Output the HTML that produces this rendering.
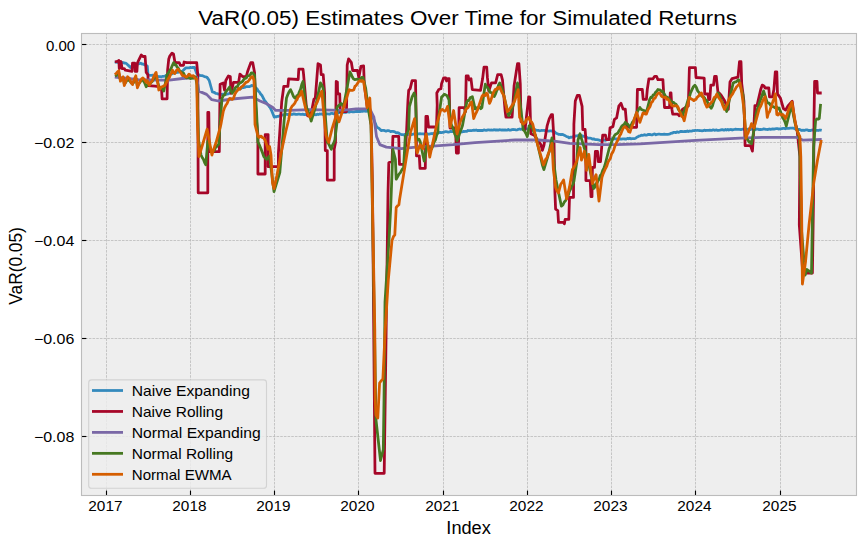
<!DOCTYPE html>
<html><head><meta charset="utf-8"><style>html,body{margin:0;padding:0;background:#fff;width:865px;height:547px;overflow:hidden}svg{display:block}text{font-family:"Liberation Sans",sans-serif}</style></head>
<body><svg width="865" height="547" viewBox="0 0 865 547" font-family="Liberation Sans, sans-serif" fill="#000">
<defs><clipPath id="clip"><rect x="81.5" y="33.5" width="775.0" height="462.0"/></clipPath></defs>
<rect x="81.5" y="33.5" width="775.0" height="462.0" fill="#eeeeee"/>
<line x1="106.50" y1="495.5" x2="106.50" y2="33.5" stroke="#b2b2b2" stroke-width="0.69" stroke-dasharray="2.57 1.11"/>
<line x1="190.50" y1="495.5" x2="190.50" y2="33.5" stroke="#b2b2b2" stroke-width="0.69" stroke-dasharray="2.57 1.11"/>
<line x1="274.50" y1="495.5" x2="274.50" y2="33.5" stroke="#b2b2b2" stroke-width="0.69" stroke-dasharray="2.57 1.11"/>
<line x1="358.50" y1="495.5" x2="358.50" y2="33.5" stroke="#b2b2b2" stroke-width="0.69" stroke-dasharray="2.57 1.11"/>
<line x1="443.50" y1="495.5" x2="443.50" y2="33.5" stroke="#b2b2b2" stroke-width="0.69" stroke-dasharray="2.57 1.11"/>
<line x1="527.50" y1="495.5" x2="527.50" y2="33.5" stroke="#b2b2b2" stroke-width="0.69" stroke-dasharray="2.57 1.11"/>
<line x1="611.50" y1="495.5" x2="611.50" y2="33.5" stroke="#b2b2b2" stroke-width="0.69" stroke-dasharray="2.57 1.11"/>
<line x1="695.50" y1="495.5" x2="695.50" y2="33.5" stroke="#b2b2b2" stroke-width="0.69" stroke-dasharray="2.57 1.11"/>
<line x1="780.50" y1="495.5" x2="780.50" y2="33.5" stroke="#b2b2b2" stroke-width="0.69" stroke-dasharray="2.57 1.11"/>
<line x1="81.5" y1="44.50" x2="856.5" y2="44.50" stroke="#b2b2b2" stroke-width="0.69" stroke-dasharray="2.57 1.11"/>
<line x1="81.5" y1="142.50" x2="856.5" y2="142.50" stroke="#b2b2b2" stroke-width="0.69" stroke-dasharray="2.57 1.11"/>
<line x1="81.5" y1="240.50" x2="856.5" y2="240.50" stroke="#b2b2b2" stroke-width="0.69" stroke-dasharray="2.57 1.11"/>
<line x1="81.5" y1="338.50" x2="856.5" y2="338.50" stroke="#b2b2b2" stroke-width="0.69" stroke-dasharray="2.57 1.11"/>
<line x1="81.5" y1="436.50" x2="856.5" y2="436.50" stroke="#b2b2b2" stroke-width="0.69" stroke-dasharray="2.57 1.11"/>
<g clip-path="url(#clip)" fill="none" stroke-width="2.78" stroke-linejoin="round" stroke-linecap="butt">
<path d="M114.8,61.7 L116.0,62.2 L117.2,62.3 L118.4,62.5 L119.6,62.6 L120.9,62.1 L122.1,62.6 L123.3,62.6 L124.5,63.1 L125.7,63.2 L126.8,63.9 L128.0,65.0 L129.2,66.3 L130.5,67.6 L131.9,66.0 L133.4,64.6 L134.6,64.6 L135.8,64.1 L137.1,64.1 L138.3,63.8 L139.5,63.6 L140.7,63.2 L141.8,64.0 L143.0,64.0 L144.4,64.6 L145.9,65.1 L147.3,66.1 L148.0,74.9 L149.2,75.2 L150.3,75.4 L151.5,75.3 L152.7,75.2 L153.8,75.7 L155.0,75.7 L156.3,76.1 L157.6,76.5 L159.0,76.6 L160.3,76.6 L161.6,76.8 L162.9,76.3 L164.2,76.3 L165.6,75.7 L166.9,75.0 L168.2,74.6 L169.4,74.6 L170.7,74.0 L171.9,74.0 L173.2,73.0 L174.4,73.0 L175.7,72.8 L176.9,72.4 L178.0,72.3 L179.1,71.6 L180.2,71.9 L181.3,71.6 L182.4,71.3 L184.1,69.6 L185.7,68.0 L186.8,67.9 L187.9,67.9 L189.0,67.9 L190.1,67.4 L191.2,67.7 L192.3,67.5 L193.4,67.4 L194.5,67.5 L196.7,73.5 L197.8,74.4 L198.9,74.8 L200.0,75.5 L201.1,75.7 L202.2,75.7 L203.3,76.0 L204.4,76.6 L205.5,76.8 L206.6,77.0 L207.9,78.5 L209.2,80.5 L212.4,92.0 L214.0,92.3 L215.6,93.3 L216.9,93.5 L218.1,94.1 L219.4,94.1 L220.7,94.6 L221.8,94.3 L222.9,94.1 L224.0,94.3 L225.1,93.9 L226.2,94.4 L227.3,93.9 L228.4,93.9 L229.7,93.2 L231.0,92.4 L232.2,92.0 L233.5,91.0 L234.8,90.7 L235.9,90.5 L237.0,90.0 L238.1,89.3 L239.2,89.0 L240.4,88.8 L241.5,88.1 L242.6,87.6 L243.7,87.5 L244.8,87.3 L245.9,86.7 L247.1,86.7 L248.2,86.6 L249.3,86.7 L250.4,86.3 L251.6,85.5 L252.7,85.6 L253.8,86.2 L254.9,87.2 L256.0,88.0 L257.2,89.1 L258.3,91.2 L259.5,92.1 L260.6,94.0 L261.8,95.2 L263.2,97.9 L264.6,100.7 L265.7,101.8 L266.8,103.5 L267.9,104.8 L269.0,106.3 L270.1,107.5 L271.5,110.3 L272.8,113.6 L274.2,117.1 L275.3,116.7 L276.4,116.9 L277.5,116.3 L278.6,116.3 L279.7,115.8 L280.9,115.2 L282.1,115.1 L283.3,114.9 L284.4,114.7 L285.6,114.3 L286.8,114.4 L288.0,114.5 L289.2,114.0 L290.3,114.2 L291.5,114.5 L292.6,114.3 L293.7,113.8 L294.8,114.1 L296.0,114.4 L297.1,114.3 L298.2,114.2 L299.3,114.2 L300.5,114.3 L301.6,114.3 L302.7,114.2 L303.8,114.5 L305.0,114.6 L306.1,114.2 L307.2,114.3 L308.3,114.7 L309.4,114.8 L310.5,114.1 L311.6,114.6 L312.8,114.3 L313.9,114.8 L315.0,114.5 L316.1,114.8 L317.3,114.2 L318.4,114.5 L319.6,114.0 L320.7,114.1 L321.9,114.0 L323.0,114.5 L324.1,113.8 L325.3,114.1 L326.4,113.9 L327.6,113.8 L328.7,114.0 L329.8,114.1 L331.0,113.4 L332.1,113.4 L333.3,113.8 L334.4,113.5 L335.5,113.3 L336.7,113.4 L337.8,112.5 L339.0,112.6 L340.1,112.4 L341.3,112.8 L342.4,112.4 L343.5,112.2 L344.7,112.3 L345.8,112.5 L347.0,112.0 L348.1,111.6 L349.2,112.2 L350.4,111.7 L351.5,111.6 L352.7,111.8 L353.8,111.8 L355.0,111.6 L356.1,111.5 L357.2,111.5 L358.3,111.5 L359.4,111.4 L360.5,111.5 L361.6,111.1 L362.7,111.4 L363.8,110.8 L364.9,111.2 L366.0,111.3 L367.1,111.0 L368.5,111.4 L369.8,112.0 L371.2,113.0 L373.2,118.2 L374.3,120.8 L375.4,123.6 L376.5,126.5 L377.7,127.7 L378.9,128.2 L380.2,129.6 L381.4,130.6 L382.5,130.4 L383.7,130.4 L384.8,130.7 L386.0,131.1 L387.1,130.7 L388.3,130.7 L389.4,130.9 L390.6,131.6 L391.8,131.4 L392.9,131.4 L394.0,131.6 L395.1,132.1 L396.2,132.8 L397.3,132.6 L398.4,132.8 L399.5,133.7 L400.6,134.2 L401.7,134.7 L402.8,134.7 L403.9,135.0 L405.1,134.3 L406.2,134.4 L407.4,134.2 L408.5,134.4 L409.7,134.7 L410.8,134.4 L412.0,134.5 L413.1,134.1 L414.3,133.9 L415.4,133.8 L416.6,134.3 L417.7,133.9 L418.8,133.8 L420.0,133.7 L421.1,133.8 L422.2,133.9 L423.4,133.8 L424.5,134.1 L425.6,134.2 L426.7,133.6 L427.9,134.2 L429.0,134.2 L430.1,133.8 L431.3,133.5 L432.4,133.8 L433.5,133.4 L434.7,133.1 L435.8,133.5 L437.0,133.0 L438.1,133.1 L439.2,132.4 L440.4,132.5 L441.5,132.6 L442.7,132.4 L443.8,132.2 L445.0,131.7 L446.1,131.7 L447.2,131.8 L448.4,132.1 L449.5,131.8 L450.7,131.4 L451.8,131.7 L453.0,131.7 L454.1,131.5 L455.2,131.4 L456.4,131.7 L457.5,132.0 L458.7,132.1 L459.8,131.7 L461.0,132.0 L462.1,131.9 L463.3,131.5 L464.5,131.5 L465.6,131.3 L466.8,131.3 L468.0,130.5 L469.2,130.7 L470.3,130.5 L471.5,130.7 L472.7,130.3 L473.8,130.1 L475.0,130.3 L476.1,130.0 L477.2,130.5 L478.3,130.5 L479.4,130.4 L480.6,130.5 L481.7,130.4 L482.8,130.5 L483.9,129.9 L485.0,130.2 L486.1,130.4 L487.2,130.1 L488.3,129.8 L489.4,130.0 L490.6,130.1 L491.7,130.0 L492.8,130.2 L493.9,129.7 L495.0,130.0 L496.1,130.0 L497.2,130.0 L498.3,130.1 L499.4,129.7 L500.6,129.8 L501.7,130.1 L502.8,129.8 L503.9,130.1 L505.0,129.8 L506.1,130.1 L507.2,130.1 L508.3,129.5 L509.4,130.1 L510.6,130.1 L511.7,129.7 L512.8,129.5 L513.9,129.6 L515.0,129.7 L516.1,130.0 L517.3,129.8 L518.4,129.3 L519.6,129.0 L520.7,129.3 L521.9,129.0 L523.0,128.9 L524.1,129.0 L525.3,128.5 L526.4,128.8 L527.6,128.9 L528.7,128.4 L529.9,128.8 L531.1,128.9 L532.3,129.0 L533.5,129.3 L534.7,129.5 L535.9,130.1 L537.1,130.4 L538.3,130.4 L539.5,130.8 L540.6,130.7 L541.8,130.3 L542.9,130.5 L544.1,130.3 L545.3,130.6 L546.4,130.8 L547.6,130.9 L548.8,131.1 L549.9,130.9 L551.1,130.8 L552.2,131.1 L553.4,131.1 L554.8,132.0 L556.1,133.2 L557.5,133.8 L558.6,134.4 L559.8,134.4 L560.9,134.7 L562.0,134.4 L563.2,134.7 L564.3,135.2 L565.5,135.9 L566.7,136.6 L567.9,136.8 L569.1,137.9 L570.3,137.2 L571.5,137.3 L572.7,136.9 L573.9,136.6 L575.1,136.3 L576.3,135.8 L577.6,135.9 L578.8,135.4 L580.0,135.2 L581.3,135.3 L582.5,136.3 L583.8,136.1 L585.0,137.0 L586.3,137.1 L587.5,137.8 L588.8,138.2 L590.0,138.2 L591.2,138.3 L592.4,139.1 L593.6,138.8 L594.8,139.5 L595.9,139.7 L597.1,139.7 L598.3,139.8 L599.5,140.3 L600.7,140.5 L601.9,140.4 L603.0,140.0 L604.2,140.0 L605.3,140.3 L606.5,140.0 L607.6,139.4 L608.8,139.4 L609.9,139.5 L611.1,138.9 L612.2,138.9 L613.4,138.8 L614.5,138.7 L615.7,139.0 L616.9,138.9 L618.0,139.2 L619.2,139.2 L620.4,138.9 L621.6,139.1 L622.7,138.9 L623.9,138.9 L625.1,139.0 L626.2,139.1 L627.4,138.4 L628.6,138.8 L629.8,138.2 L630.9,138.9 L632.1,138.6 L633.3,138.7 L634.4,138.6 L635.6,138.2 L636.8,137.2 L637.9,136.7 L639.1,136.0 L640.2,135.8 L641.4,135.2 L642.5,135.3 L643.6,135.2 L644.7,134.6 L645.8,135.2 L646.9,135.1 L648.0,134.5 L649.1,134.4 L650.2,134.5 L651.4,134.9 L652.5,134.8 L653.7,134.1 L654.9,134.0 L656.0,134.8 L657.2,134.3 L658.4,134.2 L659.5,134.2 L660.7,134.3 L661.9,134.4 L663.1,134.3 L664.2,134.1 L665.4,134.4 L666.6,134.4 L667.7,134.3 L668.9,134.1 L670.1,133.8 L671.2,133.2 L672.4,133.2 L673.5,132.3 L674.7,132.3 L675.9,132.6 L677.0,131.8 L678.2,132.3 L679.3,132.1 L680.5,131.5 L681.6,131.4 L682.8,131.7 L683.9,131.6 L685.1,131.3 L686.2,131.6 L687.4,131.0 L688.5,131.5 L689.7,131.0 L690.8,131.2 L692.0,131.1 L693.1,130.6 L694.3,130.6 L695.4,130.3 L696.5,130.5 L697.6,130.3 L698.8,130.5 L699.9,130.6 L701.0,130.7 L702.1,130.8 L703.2,130.7 L704.3,130.1 L705.4,130.5 L706.6,130.4 L707.7,130.4 L708.8,130.4 L709.9,130.1 L711.0,130.3 L712.1,130.3 L713.2,129.8 L714.4,130.3 L715.5,130.1 L716.6,129.9 L717.7,130.4 L718.8,130.3 L719.9,130.2 L721.1,129.9 L722.2,129.6 L723.3,130.0 L724.4,130.1 L725.5,129.5 L726.6,130.0 L727.7,129.4 L728.9,130.1 L730.0,129.6 L731.1,129.5 L732.2,130.0 L733.3,129.7 L734.4,129.5 L735.5,129.2 L736.7,129.4 L737.8,129.3 L738.9,129.3 L740.0,129.5 L741.1,129.6 L742.3,129.2 L743.4,129.1 L744.5,129.5 L745.6,129.6 L746.8,129.2 L747.9,129.3 L749.0,129.1 L750.2,129.7 L751.3,129.1 L752.4,129.0 L753.5,129.4 L754.7,129.6 L755.8,129.4 L756.9,129.0 L758.1,129.2 L759.2,129.6 L760.3,129.4 L761.4,129.5 L762.6,129.3 L763.7,128.9 L764.8,129.1 L766.0,129.3 L767.1,129.5 L768.2,129.4 L769.3,129.0 L770.5,129.4 L771.6,129.1 L772.8,128.9 L773.9,129.1 L775.1,128.8 L776.2,128.7 L777.4,128.7 L778.5,129.0 L779.7,128.9 L780.8,128.8 L782.0,128.7 L783.1,128.3 L784.3,128.4 L785.4,128.8 L786.6,128.3 L787.7,128.3 L788.9,128.4 L790.0,128.2 L791.2,128.2 L792.3,128.0 L793.5,128.2 L794.7,128.6 L795.9,129.1 L797.1,129.0 L798.4,129.5 L799.6,129.4 L800.8,130.1 L801.9,130.5 L803.0,130.2 L804.1,130.5 L805.2,130.2 L806.3,129.9 L807.4,129.8 L808.5,130.5 L809.6,130.4 L810.7,130.6 L811.8,130.1 L812.9,130.0 L814.0,130.5 L815.1,130.7 L816.2,130.4 L817.3,130.3 L818.4,130.5 L819.5,130.2 L820.6,130.1 L821.7,130.4" stroke="#348ABD"/>
<path d="M114.9,62.0 L118.3,61.0 L118.8,60.4 L119.3,68.6 L121.0,61.5 L122.1,68.6 L124.3,68.6 L125.4,70.2 L132.0,71.3 L132.5,63.1 L134.7,63.1 L135.2,71.3 L136.9,71.3 L137.4,63.1 L139.1,59.3 L141.3,54.9 L142.9,56.5 L145.1,56.5 L146.2,72.4 L147.9,74.6 L148.4,85.6 L155.0,86.2 L158.8,86.7 L161.6,90.0 L162.1,98.8 L167.1,98.8 L167.6,70.2 L168.7,59.3 L169.8,56.0 L172.0,53.2 L173.5,54.0 L174.8,61.5 L175.9,62.6 L179.2,62.6 L180.3,65.3 L183.5,65.3 L184.1,62.0 L186.8,62.6 L196.7,62.6 L197.8,74.6 L198.2,192.8 L207.8,192.8 L207.8,112.5 L208.8,112.5 L209.3,151.7 L219.3,151.7 L220.1,84.3 L223.3,83.0 L224.5,90.0 L225.8,80.5 L228.4,76.0 L230.3,76.6 L231.0,93.3 L233.5,82.4 L238.6,82.4 L239.9,74.1 L242.5,76.6 L246.3,76.6 L247.6,71.5 L250.8,62.6 L252.7,62.6 L254.6,72.8 L255.9,115.0 L257.9,134.6 L257.9,174.0 L265.2,174.0 L265.2,134.6 L268.1,134.6 L268.1,166.7 L278.4,166.7 L278.4,153.6 L281.7,102.0 L283.8,86.3 L287.9,86.3 L288.6,78.8 L298.2,79.5 L298.8,69.2 L303.0,69.2 L303.6,74.7 L306.4,107.5 L307.7,115.8 L311.0,114.5 L313.9,99.3 L315.3,98.0 L318.0,63.7 L320.5,65.0 L321.2,74.7 L323.2,74.7 L324.6,92.5 L325.3,150.6 L327.3,150.6 L327.3,180.1 L334.2,180.1 L334.2,149.2 L335.5,142.4 L336.2,81.5 L337.4,82.0 L337.6,93.8 L339.7,93.8 L340.3,111.6 L346.5,111.6 L347.2,65.0 L348.6,58.9 L351.3,62.3 L352.7,70.5 L357.5,70.5 L358.8,77.4 L360.9,66.4 L363.6,65.8 L364.3,84.2 L367.1,106.2 L369.5,108.0 L371.2,125.0 L372.5,190.0 L375.0,473.3 L384.2,473.3 L388.0,193.7 L388.8,162.7 L392.1,161.1 L392.9,136.4 L398.7,136.4 L399.5,164.4 L404.5,164.4 L406.5,133.0 L407.5,110.0 L408.0,99.8 L408.7,90.2 L410.1,88.8 L412.1,80.6 L415.5,80.6 L416.2,120.0 L416.5,155.9 L419.3,155.9 L420.0,168.3 L425.3,168.3 L425.9,116.4 L427.5,116.4 L428.5,127.0 L436.5,127.0 L437.2,105.0 L436.8,93.0 L438.8,89.5 L440.9,88.8 L441.6,83.4 L443.6,77.9 L445.7,77.9 L446.5,81.0 L447.7,78.6 L449.1,78.6 L450.0,128.0 L455.5,128.0 L456.4,153.0 L458.4,153.0 L459.1,107.7 L464.2,107.7 L465.5,111.6 L466.2,76.0 L468.2,76.0 L469.0,80.0 L471.0,78.8 L472.3,89.7 L480.5,90.4 L482.6,78.8 L484.0,67.1 L486.7,67.1 L487.4,77.4 L488.8,91.1 L491.5,82.9 L495.6,82.9 L497.7,74.7 L501.1,74.7 L502.5,80.1 L505.2,111.6 L505.9,117.1 L512.1,117.1 L514.1,85.6 L517.5,63.7 L518.9,63.7 L520.3,84.2 L521.0,121.5 L523.2,122.9 L525.0,130.0 L528.7,96.8 L529.8,97.0 L530.8,133.8 L534.2,135.2 L541.0,144.8 L542.4,150.3 L544.0,145.0 L547.2,125.6 L549.2,118.8 L551.3,114.7 L552.5,114.7 L554.0,140.7 L554.9,191.6 L555.6,209.1 L557.8,210.6 L558.5,222.3 L563.6,222.3 L564.4,223.7 L565.1,219.4 L568.8,219.4 L569.5,197.4 L573.5,197.4 L573.9,124.2 L575.3,101.0 L577.3,95.5 L579.4,95.5 L582.1,106.4 L582.8,129.7 L585.1,129.4 L585.9,139.6 L585.9,180.6 L590.2,180.6 L591.0,196.7 L592.0,196.7 L592.4,167.4 L594.5,167.4 L595.4,151.3 L597.5,151.3 L598.3,161.6 L600.5,161.6 L601.2,152.8 L602.7,135.2 L605.5,135.2 L606.3,139.6 L609.0,139.6 L610.0,127.9 L612.9,126.7 L614.4,119.4 L616.6,117.9 L618.8,106.2 L621.0,103.3 L623.1,109.1 L625.3,109.1 L626.8,126.7 L630.0,127.3 L636.6,127.3 L637.4,89.5 L642.3,89.5 L643.2,99.3 L646.4,99.3 L647.3,89.5 L648.9,78.8 L653.0,78.8 L654.7,76.3 L656.5,76.3 L657.9,79.6 L662.9,79.6 L664.5,107.5 L669.5,107.5 L670.3,92.8 L671.0,92.8 L671.9,109.2 L672.7,114.1 L677.7,114.1 L679.3,115.8 L682.6,109.2 L688.3,106.0 L689.4,67.7 L695.4,67.7 L696.0,77.5 L704.2,78.1 L704.7,94.0 L708.0,94.0 L708.6,99.5 L709.8,99.5 L710.8,85.2 L713.5,85.2 L714.6,76.4 L716.3,76.4 L717.9,91.8 L721.0,95.0 L724.5,100.6 L728.3,109.3 L730.0,81.9 L732.1,78.6 L738.0,77.1 L739.5,61.7 L741.0,61.7 L741.7,83.6 L743.9,101.2 L745.1,145.6 L750.5,145.6 L752.4,151.1 L753.3,138.3 L754.9,105.6 L757.0,105.6 L760.7,89.5 L762.2,85.1 L764.0,86.0 L765.1,88.0 L768.8,88.0 L769.5,96.8 L772.5,96.8 L773.9,89.5 L775.3,71.9 L776.8,71.9 L777.5,93.9 L780.5,98.3 L783.4,108.5 L785.6,110.0 L788.0,106.0 L792.2,101.2 L794.4,118.7 L797.2,131.0 L799.9,156.6 L799.3,225.0 L801.5,255.0 L802.8,273.1 L812.4,273.1 L813.5,200.0 L814.0,120.0 L814.6,81.5 L817.0,81.5 L817.5,93.0 L821.7,93.0" stroke="#A60628"/>
<path d="M114.8,77.0 L138.3,79.7 L155.0,80.1 L169.3,80.1 L182.4,78.5 L196.7,77.4 L198.9,91.1 L206.6,94.4 L211.8,99.7 L218.2,101.0 L232.2,99.0 L252.7,97.1 L260.0,101.0 L266.0,103.4 L272.8,107.5 L275.5,110.3 L289.2,110.3 L309.8,109.6 L342.4,110.3 L356.1,108.9 L369.8,108.9 L373.9,117.1 L376.5,136.4 L379.8,144.6 L386.4,147.1 L401.2,148.7 L416.0,147.1 L432.4,146.1 L453.0,144.7 L475.0,142.7 L515.0,140.0 L538.3,140.0 L556.1,141.4 L569.8,143.4 L599.0,144.7 L616.6,144.7 L640.0,143.9 L695.5,140.4 L740.0,138.1 L762.4,137.4 L797.2,137.4 L802.6,140.1 L821.7,139.5" stroke="#7A68A6"/>
<path d="M114.9,76.0 L116.2,75.5 L117.5,74.3 L118.8,73.0 L120.4,80.0 L121.8,79.1 L123.2,78.0 L124.3,84.0 L125.9,82.1 L127.6,79.0 L128.8,80.4 L130.1,81.2 L131.3,83.0 L132.5,84.0 L133.6,82.5 L134.7,79.3 L135.8,78.0 L137.4,86.0 L138.8,83.6 L140.2,82.0 L141.6,80.0 L142.9,80.0 L144.6,82.8 L146.2,86.7 L147.3,84.9 L148.4,84.3 L149.5,84.0 L150.8,82.7 L152.1,81.7 L153.5,78.9 L154.8,77.7 L156.1,76.0 L158.8,86.0 L160.1,88.2 L161.3,87.6 L162.6,88.9 L163.8,91.1 L167.1,74.6 L168.4,72.8 L169.7,70.6 L171.1,68.5 L172.4,65.3 L173.7,62.6 L174.8,64.9 L175.9,64.6 L177.0,67.0 L178.1,68.0 L179.5,70.6 L181.0,72.0 L182.4,73.0 L183.5,73.1 L184.6,75.4 L185.7,77.1 L186.8,77.9 L188.1,77.0 L189.3,78.0 L190.6,78.6 L191.8,77.7 L193.1,78.3 L194.3,76.4 L195.6,77.0 L197.0,85.0 L198.5,140.0 L201.0,155.1 L202.2,157.4 L203.4,159.3 L204.6,162.6 L205.8,164.7 L207.8,141.4 L209.2,145.7 L210.5,147.9 L211.9,152.4 L213.1,150.3 L214.2,150.7 L215.4,147.8 L216.5,146.8 L217.7,145.2 L218.8,144.2 L220.0,125.0 L222.0,98.4 L223.3,95.6 L224.6,95.0 L225.8,91.7 L227.1,90.3 L228.4,88.7 L229.7,86.9 L230.9,91.1 L232.2,93.3 L233.5,91.5 L234.8,88.2 L236.1,86.9 L237.4,86.7 L238.6,84.2 L239.9,82.8 L241.2,82.4 L242.5,81.4 L243.8,79.4 L245.0,78.4 L246.3,77.9 L247.6,75.8 L248.9,75.7 L250.1,75.1 L251.4,72.8 L252.7,72.8 L254.5,75.0 L256.5,111.2 L257.9,141.9 L259.1,144.3 L260.3,147.3 L261.4,149.9 L262.6,153.0 L263.8,156.5 L265.2,158.0 L266.7,159.4 L268.1,157.5 L269.5,156.0 L274.0,191.5 L279.8,172.6 L284.2,120.0 L286.5,98.0 L287.9,94.3 L289.2,91.5 L290.6,89.7 L292.0,92.8 L293.3,96.1 L294.7,98.0 L295.8,98.4 L296.9,95.6 L298.0,96.0 L299.2,92.3 L300.5,89.3 L301.8,84.4 L303.0,81.5 L305.7,104.8 L306.8,107.9 L307.9,110.7 L309.0,113.9 L310.1,116.8 L311.2,121.2 L315.3,107.5 L320.5,82.9 L321.9,85.1 L323.2,88.4 L326.0,125.0 L327.3,142.4 L328.7,143.9 L330.0,146.7 L331.4,149.2 L332.6,145.0 L333.7,143.1 L334.9,139.7 L336.9,123.2 L336.9,107.5 L338.3,105.8 L339.6,104.8 L341.0,103.4 L342.2,104.6 L343.4,106.8 L346.5,91.1 L349.9,71.9 L351.1,74.1 L352.2,76.8 L353.4,78.8 L354.8,79.7 L356.1,79.4 L357.4,79.2 L358.8,79.5 L360.2,79.9 L361.6,77.5 L363.0,77.4 L365.7,88.4 L368.0,107.0 L371.0,125.0 L376.0,420.0 L380.5,460.5 L383.3,449.5 L384.0,400.0 L385.0,302.0 L389.3,234.9 L390.7,207.5 L392.9,149.5 L395.4,159.4 L396.2,179.2 L397.6,176.9 L399.0,174.2 L400.4,172.6 L402.0,169.7 L403.6,167.7 L405.3,136.4 L406.4,134.5 L407.5,132.3 L408.6,129.8 L409.4,106.6 L412.1,97.0 L414.2,93.0 L415.5,97.0 L416.2,120.0 L416.8,138.0 L417.9,140.1 L419.0,139.2 L420.1,141.3 L424.2,161.2 L426.9,146.1 L428.1,146.1 L429.3,147.6 L430.5,148.5 L431.7,148.8 L432.9,145.8 L434.2,141.7 L435.4,139.9 L436.7,135.0 L437.9,132.4 L438.2,120.0 L441.6,97.0 L443.0,95.7 L444.3,94.3 L445.6,94.8 L447.0,95.7 L449.0,100.0 L450.0,120.0 L451.2,124.2 L452.4,127.0 L453.6,129.8 L454.7,134.0 L455.9,136.4 L457.1,140.6 L458.5,137.2 L459.8,132.8 L461.1,129.6 L462.5,125.5 L466.8,102.0 L467.9,100.4 L469.0,100.6 L470.1,97.8 L471.2,97.3 L472.3,96.6 L475.1,108.9 L476.2,107.8 L477.4,109.5 L478.5,107.2 L479.6,107.0 L480.8,108.7 L481.9,107.5 L485.3,84.2 L486.5,87.1 L487.6,87.6 L488.8,89.7 L490.1,92.4 L491.5,92.6 L492.9,94.4 L494.2,96.6 L495.3,94.4 L496.4,91.4 L497.5,89.4 L498.6,84.9 L499.7,82.9 L500.8,85.4 L501.9,88.8 L503.0,92.0 L508.6,115.8 L509.8,113.5 L511.0,111.3 L512.2,108.0 L513.4,104.8 L517.5,82.9 L521.0,110.3 L523.2,129.7 L524.6,131.1 L525.9,133.5 L527.3,136.6 L529.4,125.6 L530.7,126.0 L532.0,127.0 L533.2,130.2 L534.3,133.5 L535.5,135.2 L542.4,165.0 L543.9,169.6 L549.2,151.6 L552.0,137.9 L554.1,165.0 L556.0,180.0 L561.4,206.2 L562.9,205.0 L564.3,202.0 L565.8,200.3 L567.0,197.1 L568.1,195.8 L569.3,191.7 L570.4,189.5 L571.6,186.1 L572.7,184.8 L573.9,181.3 L576.8,162.0 L578.0,140.0 L580.0,133.8 L584.4,148.4 L588.0,160.0 L593.6,188.6 L594.7,187.4 L595.8,183.7 L596.9,183.2 L598.1,180.8 L599.2,179.2 L600.3,175.5 L601.4,174.4 L602.6,170.7 L603.8,168.3 L605.0,165.0 L609.3,148.0 L610.5,145.5 L611.8,141.2 L613.0,138.6 L614.2,136.0 L615.4,134.4 L616.6,133.8 L617.8,133.1 L619.1,130.8 L620.3,128.9 L621.6,126.5 L622.8,125.2 L624.1,124.5 L625.3,122.3 L626.5,124.4 L627.6,124.0 L628.8,125.8 L630.0,127.3 L631.2,125.0 L632.5,122.2 L633.7,120.8 L635.0,117.7 L636.2,113.8 L637.4,111.5 L638.7,109.3 L639.9,107.5 L641.2,109.5 L642.5,109.9 L643.8,110.6 L645.1,110.9 L646.4,112.5 L649.7,99.3 L650.9,97.1 L652.0,97.5 L653.2,94.8 L654.4,94.7 L655.6,92.2 L656.7,91.2 L657.9,89.5 L659.1,89.8 L660.4,90.2 L661.6,91.7 L662.9,91.1 L664.5,94.6 L666.0,97.0 L667.2,97.1 L668.3,98.0 L669.5,99.3 L670.8,101.1 L672.1,102.0 L673.4,102.3 L674.7,103.6 L676.0,104.3 L677.1,106.1 L678.2,109.1 L679.3,110.8 L680.4,111.2 L681.5,113.6 L682.6,115.8 L683.7,112.4 L684.9,108.5 L686.0,106.8 L687.1,103.2 L688.2,99.3 L689.4,96.9 L690.5,92.9 L692.0,89.7 L693.4,86.7 L694.9,85.2 L696.4,87.5 L697.8,91.2 L699.3,92.9 L700.6,94.5 L701.8,96.3 L703.1,96.6 L704.4,97.7 L705.6,100.2 L706.9,100.6 L708.4,104.2 L709.8,106.6 L711.3,108.2 L712.4,106.1 L713.5,102.1 L714.6,99.5 L715.7,97.2 L716.8,95.6 L717.9,92.9 L719.0,94.2 L720.1,96.8 L721.2,100.7 L722.3,102.0 L723.4,105.1 L724.5,106.9 L725.6,108.6 L726.7,111.5 L733.2,83.0 L734.6,82.2 L735.9,82.0 L737.2,80.8 L738.6,79.6 L743.0,95.0 L746.0,138.3 L747.1,139.0 L748.2,140.6 L749.3,142.3 L750.4,141.8 L751.5,143.8 L754.0,130.0 L756.3,112.9 L757.5,108.5 L758.7,105.0 L760.0,100.9 L761.2,98.0 L762.4,94.3 L763.6,91.0 L767.0,102.0 L768.1,103.1 L769.3,103.2 L770.5,105.3 L771.6,105.4 L772.8,106.6 L773.9,107.0 L775.2,107.8 L776.5,106.8 L777.7,108.8 L779.0,108.0 L780.2,110.7 L781.4,114.0 L782.6,117.6 L783.9,119.4 L785.1,122.2 L786.3,126.0 L791.5,105.0 L795.0,123.0 L799.5,138.0 L801.5,230.0 L805.1,275.0 L807.0,269.5 L808.1,270.4 L809.2,270.9 L810.4,272.1 L811.5,273.1 L812.4,218.3 L813.6,147.4 L815.6,120.3 L816.8,118.9 L818.1,119.2 L819.3,118.5 L820.6,103.9" stroke="#467821"/>
<path d="M114.9,74.6 L116.2,73.4 L117.5,71.8 L118.8,70.8 L120.4,81.2 L121.8,79.0 L123.2,76.8 L124.3,85.6 L125.9,81.3 L127.6,76.8 L129.5,78.5 L131.0,82.4 L132.5,84.5 L133.6,81.1 L134.7,78.3 L135.8,75.7 L137.4,87.8 L138.8,84.2 L140.2,81.2 L141.6,78.9 L142.9,77.9 L144.6,79.8 L146.2,82.3 L147.2,80.5 L148.3,83.6 L149.5,85.1 L150.8,82.4 L152.1,80.9 L153.5,77.3 L154.8,74.2 L156.1,72.4 L158.8,90.0 L160.1,88.7 L161.4,86.8 L162.7,86.7 L163.8,85.8 L164.9,85.5 L167.1,81.2 L168.2,78.6 L169.3,77.7 L170.4,74.8 L171.5,72.8 L172.6,70.2 L173.7,72.9 L174.8,73.5 L176.4,70.4 L178.1,69.1 L179.5,71.4 L181.0,73.1 L182.4,75.7 L184.1,75.6 L185.7,76.8 L186.8,76.9 L187.9,75.6 L189.0,74.1 L190.1,75.1 L191.2,76.0 L192.3,76.0 L193.4,75.7 L195.1,78.2 L196.7,79.0 L197.5,125.0 L198.9,156.5 L202.3,145.5 L207.1,129.1 L211.9,155.1 L213.3,150.4 L214.6,146.6 L216.0,142.8 L220.8,125.0 L223.3,111.2 L224.6,107.6 L225.8,105.3 L227.1,103.5 L228.4,100.3 L229.7,98.4 L231.0,98.8 L232.2,99.4 L233.5,98.4 L234.8,94.3 L236.1,92.0 L237.4,90.6 L238.6,88.5 L239.9,89.2 L241.2,86.9 L242.5,86.3 L243.8,85.0 L245.0,83.4 L246.3,82.1 L247.6,81.8 L248.9,80.3 L250.1,78.7 L251.4,76.8 L252.7,76.6 L254.0,80.5 L255.0,124.4 L257.9,136.0 L259.0,137.3 L260.1,136.4 L261.2,136.2 L262.3,137.5 L263.8,138.2 L265.2,140.4 L268.1,149.2 L269.6,146.5 L271.0,155.0 L272.5,182.8 L274.0,188.6 L276.9,175.5 L281.3,152.1 L285.7,131.7 L288.6,120.0 L290.6,108.9 L292.0,106.3 L293.3,105.0 L294.7,103.4 L295.9,100.8 L297.0,99.8 L298.1,96.7 L299.3,96.2 L300.5,94.0 L301.6,91.1 L305.7,108.9 L307.1,112.5 L308.4,115.4 L309.8,117.1 L311.1,115.5 L312.4,111.5 L313.7,108.9 L315.0,106.2 L316.1,104.2 L317.3,102.0 L318.4,99.1 L319.5,96.3 L320.7,93.4 L321.8,91.1 L323.9,115.0 L326.0,135.5 L327.4,139.5 L328.7,142.4 L332.1,128.7 L335.5,117.7 L336.2,111.6 L339.0,121.8 L344.5,104.8 L349.2,89.7 L350.4,90.3 L351.5,90.3 L352.7,90.4 L353.8,89.8 L355.0,86.2 L356.1,85.6 L357.5,83.4 L358.8,81.5 L360.0,80.5 L361.2,81.5 L362.4,80.6 L363.6,81.5 L365.7,95.2 L367.1,107.5 L369.8,98.0 L371.2,125.0 L372.4,200.0 L374.8,330.0 L375.2,400.0 L376.0,415.0 L377.8,418.0 L379.6,383.0 L381.2,380.8 L382.9,378.8 L385.2,330.0 L388.3,280.0 L392.0,240.4 L393.4,236.7 L394.8,234.9 L396.2,207.5 L397.5,205.9 L398.9,204.7 L399.5,200.0 L406.1,159.4 L410.5,132.4 L414.6,118.7 L416.0,147.5 L417.3,153.0 L418.7,148.3 L420.1,144.7 L421.5,146.5 L422.8,148.8 L426.2,133.8 L429.7,157.1 L436.5,125.5 L440.6,110.5 L442.3,109.4 L443.5,110.3 L444.7,111.2 L446.1,109.9 L447.5,106.4 L450.2,126.9 L453.6,110.5 L457.1,133.8 L460.0,122.6 L461.1,119.8 L462.2,117.3 L463.3,115.4 L464.4,113.5 L465.5,110.3 L466.7,108.4 L467.9,107.8 L469.2,105.4 L470.4,102.8 L471.6,102.0 L473.7,118.5 L475.1,114.9 L476.4,112.4 L477.8,108.9 L481.9,96.6 L483.0,95.0 L484.1,95.2 L485.2,95.6 L486.3,93.3 L487.4,93.8 L489.5,103.4 L490.7,100.9 L491.9,96.9 L493.0,93.6 L494.2,91.1 L495.3,89.3 L496.4,89.3 L497.5,87.6 L498.6,88.3 L499.7,87.0 L501.1,90.4 L502.4,93.3 L503.8,95.2 L507.3,111.6 L508.6,110.4 L509.8,108.7 L511.0,107.2 L512.3,104.8 L513.5,103.4 L514.8,100.7 L518.2,89.7 L519.6,117.4 L520.8,118.8 L522.0,122.8 L523.2,124.2 L524.3,123.4 L525.4,122.2 L526.5,119.2 L527.6,119.0 L528.7,117.4 L530.1,120.7 L531.4,121.8 L532.8,124.2 L536.9,142.1 L543.5,165.0 L544.6,162.6 L545.7,159.2 L546.8,158.1 L547.9,154.8 L549.0,152.0 L550.5,148.7 L552.0,143.4 L553.4,169.6 L555.6,187.2 L557.0,191.0 L558.5,193.0 L560.7,184.3 L562.2,182.2 L563.6,179.9 L566.6,198.9 L569.5,187.2 L572.4,169.6 L573.9,167.4 L575.3,164.6 L576.8,160.9 L580.1,147.5 L581.5,160.1 L584.4,151.3 L586.6,170.3 L588.8,154.3 L592.4,183.5 L593.6,180.1 L594.9,177.3 L596.1,174.7 L599.0,201.0 L601.9,177.7 L603.1,173.9 L604.4,171.0 L605.6,168.3 L606.8,166.0 L608.1,161.9 L609.3,160.1 L610.5,158.0 L611.6,153.8 L612.8,152.2 L613.9,149.4 L615.1,145.5 L616.6,142.5 L618.0,139.9 L619.5,136.0 L620.8,134.0 L622.0,130.8 L623.3,128.0 L624.6,126.7 L626.0,127.7 L627.3,128.9 L628.6,131.7 L630.0,132.2 L631.1,128.7 L632.2,125.5 L633.3,123.4 L634.4,118.4 L635.5,116.0 L636.6,112.5 L639.9,122.4 L643.0,113.0 L644.1,112.8 L645.3,114.0 L646.4,114.1 L647.6,110.7 L648.9,108.2 L650.1,106.4 L651.4,102.6 L652.6,101.4 L653.9,98.6 L655.1,98.2 L656.3,95.7 L657.6,93.8 L658.8,92.8 L659.9,93.0 L661.1,95.7 L662.2,96.7 L663.4,96.9 L664.5,97.7 L665.7,97.4 L666.8,99.4 L668.0,99.0 L669.2,100.9 L670.4,103.1 L671.5,105.2 L672.7,105.9 L674.1,106.0 L675.6,105.7 L677.0,106.0 L678.2,107.4 L679.4,111.1 L680.6,113.3 L681.8,116.6 L683.0,117.2 L684.2,120.7 L689.4,97.3 L690.9,98.7 L692.3,99.4 L693.8,100.6 L694.9,99.6 L696.0,99.4 L697.1,97.3 L698.5,96.2 L700.0,93.9 L701.4,92.9 L702.5,96.2 L703.6,98.4 L705.2,103.5 L706.9,107.1 L708.0,106.4 L709.1,104.1 L710.2,103.9 L711.5,102.2 L712.8,100.9 L714.2,97.5 L715.5,96.8 L716.8,94.0 L717.9,96.2 L719.0,98.1 L720.1,99.5 L721.6,101.8 L723.0,106.0 L724.5,109.3 L726.0,106.3 L727.4,103.8 L728.9,99.5 L730.1,97.6 L731.3,95.6 L732.6,93.9 L733.8,91.3 L735.0,89.6 L736.2,87.3 L737.5,85.9 L738.8,84.4 L740.0,82.9 L741.7,92.4 L743.9,108.5 L746.0,138.3 L747.1,134.8 L748.2,132.7 L749.3,128.9 L750.4,127.3 L751.5,123.7 L752.8,126.5 L754.0,128.0 L759.3,108.5 L760.5,106.6 L761.6,104.0 L762.8,100.6 L763.9,98.8 L765.1,96.8 L767.3,117.3 L768.4,113.2 L769.6,111.6 L770.7,108.0 L771.9,104.6 L773.0,101.1 L774.2,98.3 L775.3,93.9 L776.8,114.4 L778.0,115.0 L779.2,113.4 L780.3,114.2 L781.5,115.1 L782.7,114.4 L784.1,116.0 L785.5,118.5 L786.8,115.7 L788.1,111.1 L789.3,107.9 L790.6,105.1 L791.9,102.0 L796.5,129.5 L797.6,131.8 L798.8,134.3 L799.9,136.5 L800.8,156.6 L801.5,200.0 L802.4,284.1 L805.5,262.0 L809.1,224.2 L813.8,182.6 L817.5,160.0 L821.3,140.0" stroke="#D55E00"/>
</g>
<line x1="106.50" y1="495.5" x2="106.50" y2="490.64" stroke="#000" stroke-width="1.11"/>
<line x1="190.50" y1="495.5" x2="190.50" y2="490.64" stroke="#000" stroke-width="1.11"/>
<line x1="274.50" y1="495.5" x2="274.50" y2="490.64" stroke="#000" stroke-width="1.11"/>
<line x1="358.50" y1="495.5" x2="358.50" y2="490.64" stroke="#000" stroke-width="1.11"/>
<line x1="443.50" y1="495.5" x2="443.50" y2="490.64" stroke="#000" stroke-width="1.11"/>
<line x1="527.50" y1="495.5" x2="527.50" y2="490.64" stroke="#000" stroke-width="1.11"/>
<line x1="611.50" y1="495.5" x2="611.50" y2="490.64" stroke="#000" stroke-width="1.11"/>
<line x1="695.50" y1="495.5" x2="695.50" y2="490.64" stroke="#000" stroke-width="1.11"/>
<line x1="780.50" y1="495.5" x2="780.50" y2="490.64" stroke="#000" stroke-width="1.11"/>
<line x1="81.5" y1="44.50" x2="86.36" y2="44.50" stroke="#000" stroke-width="1.11"/>
<line x1="81.5" y1="142.50" x2="86.36" y2="142.50" stroke="#000" stroke-width="1.11"/>
<line x1="81.5" y1="240.50" x2="86.36" y2="240.50" stroke="#000" stroke-width="1.11"/>
<line x1="81.5" y1="338.50" x2="86.36" y2="338.50" stroke="#000" stroke-width="1.11"/>
<line x1="81.5" y1="436.50" x2="86.36" y2="436.50" stroke="#000" stroke-width="1.11"/>
<rect x="81.5" y="33.5" width="775.0" height="462.0" fill="none" stroke="#bcbcbc" stroke-width="1.11"/>
<text x="75.2" y="51.00" text-anchor="end" font-size="13.9" textLength="29.2" lengthAdjust="spacingAndGlyphs">0.00</text>
<text x="74.3" y="148.10" text-anchor="end" font-size="13.9" textLength="40.4" lengthAdjust="spacingAndGlyphs">−0.02</text>
<text x="74.3" y="246.10" text-anchor="end" font-size="13.9" textLength="40.4" lengthAdjust="spacingAndGlyphs">−0.04</text>
<text x="74.3" y="344.10" text-anchor="end" font-size="13.9" textLength="40.4" lengthAdjust="spacingAndGlyphs">−0.06</text>
<text x="74.3" y="442.10" text-anchor="end" font-size="13.9" textLength="40.4" lengthAdjust="spacingAndGlyphs">−0.08</text>
<text x="105.40" y="510.6" text-anchor="middle" font-size="13.9" textLength="34.2" lengthAdjust="spacingAndGlyphs">2017</text>
<text x="189.40" y="510.6" text-anchor="middle" font-size="13.9" textLength="34.2" lengthAdjust="spacingAndGlyphs">2018</text>
<text x="273.40" y="510.6" text-anchor="middle" font-size="13.9" textLength="34.2" lengthAdjust="spacingAndGlyphs">2019</text>
<text x="357.40" y="510.6" text-anchor="middle" font-size="13.9" textLength="34.2" lengthAdjust="spacingAndGlyphs">2020</text>
<text x="442.40" y="510.6" text-anchor="middle" font-size="13.9" textLength="34.2" lengthAdjust="spacingAndGlyphs">2021</text>
<text x="526.40" y="510.6" text-anchor="middle" font-size="13.9" textLength="34.2" lengthAdjust="spacingAndGlyphs">2022</text>
<text x="610.40" y="510.6" text-anchor="middle" font-size="13.9" textLength="34.2" lengthAdjust="spacingAndGlyphs">2023</text>
<text x="694.40" y="510.6" text-anchor="middle" font-size="13.9" textLength="34.2" lengthAdjust="spacingAndGlyphs">2024</text>
<text x="779.40" y="510.6" text-anchor="middle" font-size="13.9" textLength="34.2" lengthAdjust="spacingAndGlyphs">2025</text>
<text x="467.6" y="24.8" text-anchor="middle" font-size="20" textLength="538.6" lengthAdjust="spacingAndGlyphs">VaR(0.05) Estimates Over Time for Simulated Returns</text>
<text x="468.6" y="533.7" text-anchor="middle" font-size="18" textLength="44.5" lengthAdjust="spacingAndGlyphs">Index</text>
<text transform="translate(22.1,265.9) rotate(-90)" x="0" y="0" text-anchor="middle" font-size="17.5" textLength="77.5" lengthAdjust="spacingAndGlyphs">VaR(0.05)</text>
<rect x="88.7" y="379.9" width="177.8" height="108.3" rx="2.8" fill="#eeeeee" fill-opacity="0.8" stroke="#cccccc" stroke-width="1.11" stroke-opacity="0.8"/>
<line x1="92.0" y1="390.50" x2="123.0" y2="390.50" stroke="#348ABD" stroke-width="2.78"/>
<text x="131.8" y="396.00" font-size="13.9" textLength="118.1" lengthAdjust="spacingAndGlyphs">Naive Expanding</text>
<line x1="92.0" y1="411.45" x2="123.0" y2="411.45" stroke="#A60628" stroke-width="2.78"/>
<text x="131.8" y="416.95" font-size="13.9" textLength="91.3" lengthAdjust="spacingAndGlyphs">Naive Rolling</text>
<line x1="92.0" y1="432.40" x2="123.0" y2="432.40" stroke="#7A68A6" stroke-width="2.78"/>
<text x="131.8" y="437.90" font-size="13.9" textLength="128.9" lengthAdjust="spacingAndGlyphs">Normal Expanding</text>
<line x1="92.0" y1="453.35" x2="123.0" y2="453.35" stroke="#467821" stroke-width="2.78"/>
<text x="131.8" y="458.85" font-size="13.9" textLength="101.4" lengthAdjust="spacingAndGlyphs">Normal Rolling</text>
<line x1="92.0" y1="474.30" x2="123.0" y2="474.30" stroke="#D55E00" stroke-width="2.78"/>
<text x="131.8" y="479.80" font-size="13.9" textLength="99.8" lengthAdjust="spacingAndGlyphs">Normal EWMA</text>
</svg></body></html>
